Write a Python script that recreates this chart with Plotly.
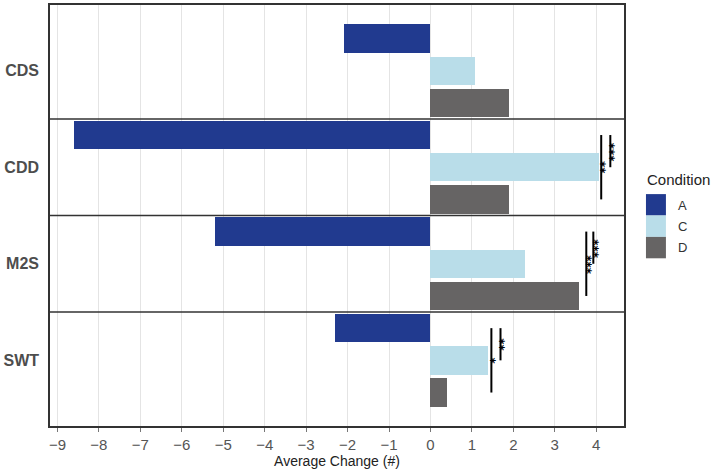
import plotly.graph_objects as go

# ---- data ----
measures = ["CDS", "CDD", "M2S", "SWT"]
conditions = ["A", "C", "D"]
vals_A = [-2.09, -8.60, -5.20, -2.31]
vals_C = [1.08, 4.07, 2.29, 1.40]
vals_D = [1.89, 1.90, 3.59, 0.41]
colors = {"A": "#213a8f", "C": "#b9dde9", "D": "#666464"}

# significance brackets: (measure, from cond, to cond, x position, label)
sig_measure = ["CDD", "CDD", "M2S", "M2S", "SWT", "SWT"]
sig_from = ["A", "A", "A", "A", "A", "A"]
sig_to = ["D", "C", "D", "C", "D", "C"]
sig_x = [4.12, 4.34, 3.76, 3.93, 1.47, 1.69]
sig_label = ["**", "***", "***", "***", "*", "**"]

# ---- layout geometry ----
W, H = 711, 470
ml, mr, mt, mb = 49, 87, 3, 44
pw, ph = W - ml - mr, H - mt - mb
nc = len(conditions)
pad = 0.54

def ypos(mi, ci):
    return mi * nc + ci

series = {"A": vals_A, "C": vals_C, "D": vals_D}
fig = go.Figure()
for ci, c in enumerate(conditions):
    fig.add_trace(go.Bar(
        x=series[c], y=[ypos(mi, ci) for mi in range(len(measures))],
        orientation="h", width=0.88,
        marker=dict(color=colors[c], line=dict(width=0)),
        name=c, showlegend=False))

font_fam = "Liberation Sans Narrow, Arial Narrow, Liberation Sans, Arial, sans-serif"
ymax = len(measures) * nc - 0.5 + pad
ymin = -0.5 - pad

fig.update_yaxes(range=[ymax, ymin], tickvals=[ypos(mi, 1) for mi in range(len(measures))],
                 ticktext=measures, showgrid=False, zeroline=False,
                 showline=True, mirror=True, linecolor="#333333", linewidth=1.6,
                 ticks="", ticklabelstandoff=6,
                 tickfont=dict(family="Liberation Sans, Arial, sans-serif",
                               size=16, color="#4d4d4d", weight="bold"))
fig.update_xaxes(range=[-9.18, 4.67], dtick=1, tick0=0,
                 showgrid=True, gridcolor="#e4e4e4", gridwidth=1.2,
                 zeroline=False, showline=True, mirror=True,
                 linecolor="#333333", linewidth=1.6,
                 ticks="outside", ticklen=4, tickcolor="#777777",
                 tickfont=dict(family=font_fam, size=15, color="#555555"),
                 title=dict(text="Average Change (#)", standoff=3,
                            font=dict(family=font_fam, size=14, color="#222222")))

# facet separators
for mi in range(1, len(measures)):
    yy = mi * nc - 0.5
    fig.add_shape(type="line", xref="paper", yref="y", x0=0, x1=1, y0=yy, y1=yy,
                  line=dict(color="#333333", width=1.6))

# significance brackets
for m, f, t, x, lab in zip(sig_measure, sig_from, sig_to, sig_x, sig_label):
    mi = measures.index(m)
    y0, y1 = ypos(mi, conditions.index(f)), ypos(mi, conditions.index(t))
    fig.add_shape(type="line", x0=x, x1=x, y0=y0, y1=y1, xref="x", yref="y",
                  line=dict(color="black", width=2))
    fig.add_annotation(x=x, y=(y0 + y1) / 2, xref="x", yref="y", text=lab,
                       textangle=-90, showarrow=False, xanchor="left", xshift=-5,
                       font=dict(family="DejaVu Sans", size=12, color="#000000",
                                 weight="bold"))

# custom legend
def px_x(p):
    return (p - ml) / pw

def px_y(p):
    return (H - mb - p) / ph

fig.add_annotation(x=px_x(645), y=px_y(178), xref="paper", yref="paper",
                   text="Condition", showarrow=False, xanchor="left", yanchor="middle",
                   font=dict(family=font_fam, size=15, color="#222222"))
top = 193
for i, c in enumerate(conditions):
    y0 = top + i * 21.5
    fig.add_shape(type="rect", xref="paper", yref="paper",
                  x0=px_x(646), x1=px_x(666), y0=px_y(y0 + 21.5), y1=px_y(y0),
                  fillcolor=colors[c], line=dict(width=0))
    fig.add_annotation(x=px_x(676), y=px_y(y0 + 11), xref="paper", yref="paper",
                       text=c, showarrow=False, xanchor="left", yanchor="middle",
                       font=dict(family=font_fam, size=13, color="#333333"))

fig.update_layout(width=W, height=H, margin=dict(l=ml, r=mr, t=mt, b=mb),
                  plot_bgcolor="white", paper_bgcolor="white", bargap=0,
                  showlegend=False)

fig.write_html("out.html")
